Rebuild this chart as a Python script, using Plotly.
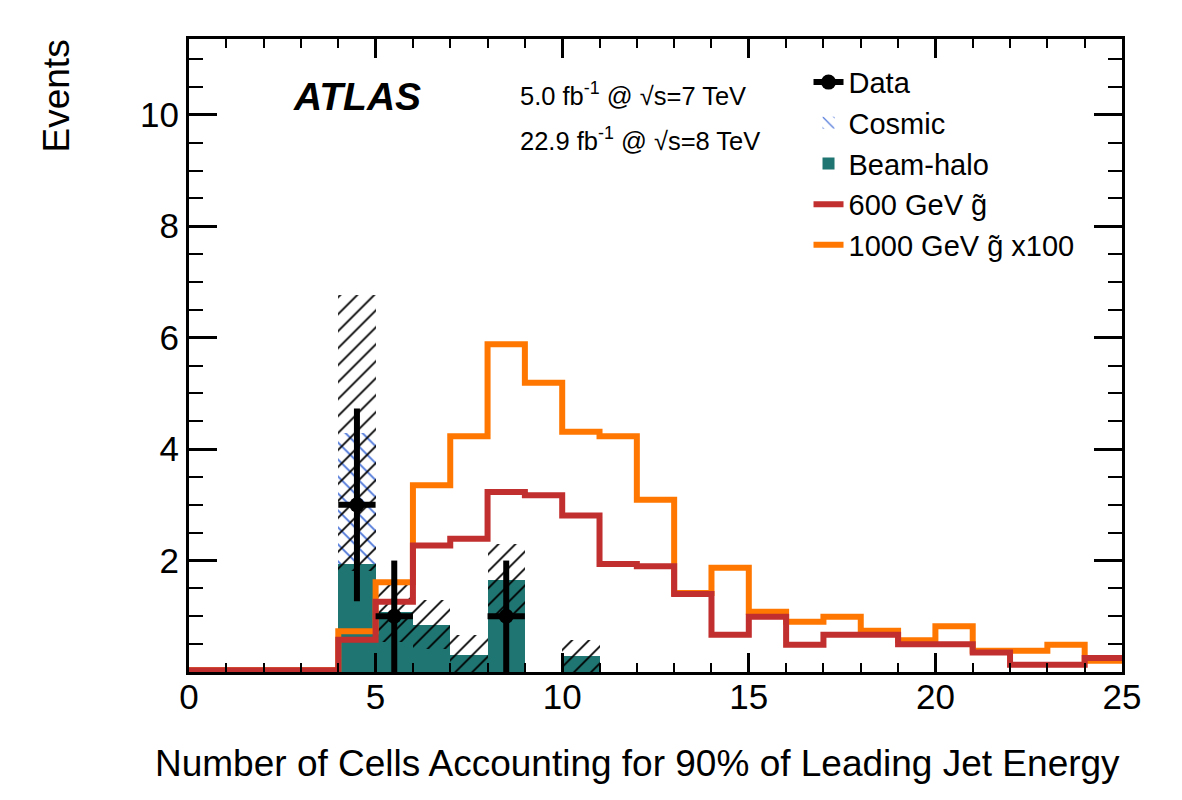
import plotly.graph_objects as go

# ---- data (bins of width 1 from 0 to 25) ----
bin_edges = list(range(0, 26))
bin_centers = [e + 0.5 for e in range(0, 25)]

gluino600 = [0.03, 0.03, 0.03, 0.03, 0.58, 1.26, 2.27, 2.39, 3.23, 3.17,
             2.81, 1.94, 1.90, 1.40, 0.67, 0.99, 0.49, 0.67, 0.67, 0.50,
             0.50, 0.35, 0.13, 0.13, 0.25]
gluino1000x100 = [0.03, 0.03, 0.03, 0.03, 0.73, 1.61, 3.35, 4.23, 5.88, 5.19,
                  4.31, 4.23, 3.09, 1.42, 1.87, 1.08, 0.90, 0.99, 0.74, 0.57,
                  0.82, 0.38, 0.38, 0.49, 0.20]

bkg_centers = [4.5, 5.5, 6.5, 7.5, 8.5, 9.5, 10.5]
beam_halo = [1.93, 1.08, 0.85, 0.31, 1.65, 0.0, 0.29]
cosmic = [2.36, 0.0, 0.0, 0.0, 0.0, 0.0, 0.0]
bkg_err = [2.48, 0.54, 0.44, 0.35, 0.65, 0.0, 0.29]

data_x = [4.5, 5.5, 8.5]
data_y = [3, 1, 1]
data_err = [1.73, 1.0, 1.0]

# colours
RED = "#c22f2f"
ORANGE = "#ff7700"
TEAL = "#1f7571"
BLUE = "#4a74d8"

FONT = "Liberation Sans, Arial, Helvetica, sans-serif"

stack = [b + c for b, c in zip(beam_halo, cosmic)]
band_low = [max(s - e, 0.0) for s, e in zip(stack, bkg_err)]
band_high = [s + e for s, e in zip(stack, bkg_err)]
band_h = [h - l for h, l in zip(band_high, band_low)]

fig = go.Figure()

# Beam-halo (filled)
fig.add_trace(go.Bar(
    x=bkg_centers, y=beam_halo, width=1.0, name="Beam-halo",
    marker=dict(color=TEAL, line=dict(width=0)),
    legendrank=3,
))
# Cosmic (blue hatch) stacked on beam-halo
fig.add_trace(go.Bar(
    x=bkg_centers, y=cosmic, base=beam_halo, width=1.0, name="Cosmic",
    marker=dict(color=BLUE, line=dict(width=0),
                pattern=dict(shape="\\", fillmode="replace", size=12, solidity=0.15,
                             fgcolor=BLUE)),
    legendrank=2,
))
# Background uncertainty band (black hatch)
fig.add_trace(go.Bar(
    x=bkg_centers, y=band_h, base=band_low, width=1.0, showlegend=False,
    marker=dict(color="black", line=dict(width=0),
                pattern=dict(shape="/", fillmode="replace", size=12, solidity=0.15,
                             fgcolor="black")),
))

# Signal step histograms
fig.add_trace(go.Scatter(
    x=bin_edges, y=gluino1000x100 + [gluino1000x100[-1]], mode="lines",
    line=dict(color=ORANGE, width=6, shape="hv"),
    name="1000 GeV g\u0303 x100", legendrank=5,
))
fig.add_trace(go.Scatter(
    x=bin_edges, y=gluino600 + [gluino600[-1]], mode="lines",
    line=dict(color=RED, width=6, shape="hv"),
    name="600 GeV g\u0303", legendrank=4,
))

# Data
fig.add_trace(go.Scatter(
    x=data_x, y=data_y, mode="markers", showlegend=False,
    marker=dict(color="black", size=15, symbol="circle"),
    error_y=dict(type="data", array=data_err, color="black", thickness=6, width=0),
    error_x=dict(type="constant", value=0.5, color="black", thickness=6, width=0),
))
fig.add_trace(go.Scatter(
    x=[None], y=[None], mode="lines+markers", name="Data",
    line=dict(color="black", width=6), marker=dict(color="black", size=15),
    legendrank=1,
))

axis_common = dict(
    showline=True, linewidth=3, linecolor="black", mirror="ticks",
    ticks="inside", tickwidth=2.5, tickcolor="black",
    showgrid=False, zeroline=False,
    tickfont=dict(family=FONT, size=35, color="black"),
)

fig.update_xaxes(
    range=[0, 25], tickmode="array", tickvals=[0, 5, 10, 15, 20, 25],
    ticklen=19, ticklabelstandoff=-8,
    minor=dict(dtick=1, ticklen=9, tickwidth=2, tickcolor="black", ticks="inside"),
    **axis_common,
)
fig.update_yaxes(
    range=[0, 11.36], tickmode="array", tickvals=[2, 4, 6, 8, 10],
    ticklen=28,
    minor=dict(dtick=0.5, ticklen=14, tickwidth=2, tickcolor="black", ticks="inside"),
    **axis_common,
)

annotations = [
    dict(text="Number of Cells Accounting for 90% of Leading Jet Energy",
         xref="paper", yref="paper", x=1.0, y=-0.144, xanchor="right", yanchor="middle",
         showarrow=False, font=dict(family=FONT, size=37, color="black")),
    dict(text="Events", xref="paper", yref="paper", x=-0.1416, y=1.003,
         xanchor="center", yanchor="top", textangle=-90, showarrow=False,
         font=dict(family=FONT, size=37, color="black")),
    dict(text="<b><i>ATLAS</i></b>", xref="x", yref="y", x=2.72, y=10.32,
         xanchor="left", yanchor="middle", showarrow=False,
         font=dict(family=FONT, size=39, color="black")),
    dict(text="5.0 fb<sup>-1</sup> @ \u221as=7 TeV", xref="x", yref="y", x=8.82, y=10.38,
         xanchor="left", yanchor="middle", showarrow=False,
         font=dict(family=FONT, size=25.5, color="black")),
    dict(text="22.9 fb<sup>-1</sup> @ \u221as=8 TeV", xref="x", yref="y", x=8.82, y=9.57,
         xanchor="left", yanchor="middle", showarrow=False,
         font=dict(family=FONT, size=25.5, color="black")),
]

fig.update_layout(
    width=1182, height=800,
    margin=dict(l=189, r=60, t=39, b=128),
    paper_bgcolor="white", plot_bgcolor="white",
    barmode="overlay", bargap=0,
    annotations=annotations,
    showlegend=True,
    legend=dict(x=0.664, y=0.972, xanchor="left", yanchor="top",
                bgcolor="rgba(0,0,0,0)", borderwidth=0,
                font=dict(family=FONT, size=29, color="black"),
                traceorder="normal"),
    font=dict(family=FONT),
)

fig.write_html("out.html")
